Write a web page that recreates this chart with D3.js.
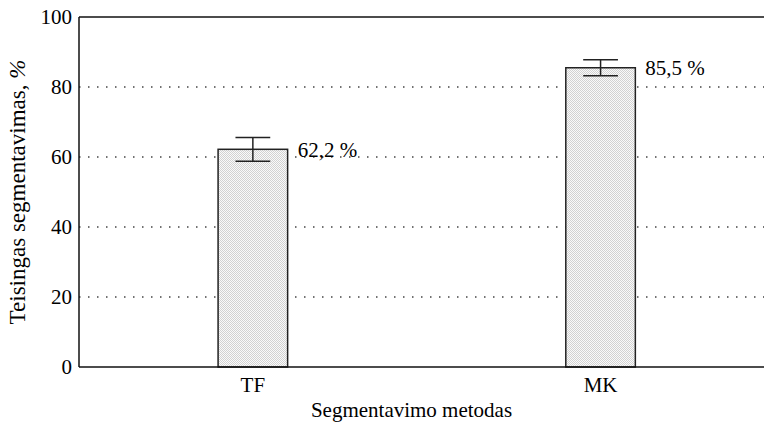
<!DOCTYPE html>
<html>
<head>
<meta charset="utf-8">
<script src="https://cdn.jsdelivr.net/npm/d3@7"></script>
<style>
  body { margin: 0; background: #fff; }
  svg text { font-family: "Liberation Serif", "DejaVu Serif", serif; fill: #000; }
</style>
</head>
<body>
<svg id="chart" width="764" height="422"></svg>
<script>
// data
const categories = ['TF', 'MK'];
const values = [62.2, 85.5];
const errors = [3.4, 2.3];
const valueLabels = ['62,2 %', '85,5 %'];
const yTicks = [0, 20, 40, 60, 80, 100];

const width = 764;
const height = 422;
const margin = {top: 17, right: 0, bottom: 55, left: 79};

const svg = d3.select('#chart');

// light checker fill like the original print
const defs = svg.append('defs');
const pat = defs.append('pattern')
  .attr('id', 'dots')
  .attr('width', 2)
  .attr('height', 2)
  .attr('patternUnits', 'userSpaceOnUse');
pat.append('rect').attr('width', 2).attr('height', 2).attr('fill', '#fafafa');
pat.append('rect').attr('width', 1).attr('height', 1).attr('fill', '#d2d2d2');
pat.append('rect').attr('x', 1).attr('y', 1).attr('width', 1).attr('height', 1).attr('fill', '#d2d2d2');

// categories sit at 1, 2 on a linear axis (figure is cropped on the right)
const x = d3.scaleLinear()
  .domain([0.5, 2.47])
  .range([margin.left, width - margin.right]);
const y = d3.scaleLinear()
  .domain([0, 100])
  .range([height - margin.bottom, margin.top]);

const barW = x(1.1) - x(0.9);

// dotted grid
svg.append('g')
  .selectAll('line')
  .data(yTicks.filter((d) => d > 0 && d < 100))
  .join('line')
  .attr('x1', margin.left)
  .attr('x2', width)
  .attr('y1', (d) => y(d))
  .attr('y2', (d) => y(d))
  .attr('stroke', '#444')
  .attr('stroke-width', 1.3)
  .attr('stroke-dasharray', '1.5,7.5');

// bars
svg.append('g')
  .selectAll('rect')
  .data(categories)
  .join('rect')
  .attr('x', (d, i) => x(i + 1) - barW / 2)
  .attr('y', (d, i) => y(values[i]))
  .attr('width', barW)
  .attr('height', (d, i) => y(0) - y(values[i]))
  .attr('fill', 'url(#dots)')
  .attr('stroke', '#222')
  .attr('stroke-width', 1.5);

// error bars
const errG = svg.append('g')
  .attr('stroke', '#222')
  .attr('stroke-width', 1.5);
categories.forEach((c, i) => {
  const cx = x(i + 1);
  const hi = y(values[i] + errors[i]);
  const lo = y(values[i] - errors[i]);
  const cap = barW / 4;
  errG.append('line').attr('x1', cx).attr('x2', cx).attr('y1', hi).attr('y2', lo);
  errG.append('line').attr('x1', cx - cap).attr('x2', cx + cap).attr('y1', hi).attr('y2', hi);
  errG.append('line').attr('x1', cx - cap).attr('x2', cx + cap).attr('y1', lo).attr('y2', lo);
});

// value labels
svg.append('g')
  .selectAll('text')
  .data(valueLabels)
  .join('text')
  .attr('x', (d, i) => x(i + 1) + barW / 2 + 10)
  .attr('y', (d, i) => y(values[i]))
  .attr('dy', '0.35em')
  .attr('font-size', 21)
  .text((d) => d);

// frame: left axis, bottom axis, top border
const frame = svg.append('g').attr('stroke', '#111').attr('stroke-width', 1.5);
frame.append('line').attr('x1', x(0.5)).attr('x2', x(0.5)).attr('y1', y(100)).attr('y2', y(0));
frame.append('line').attr('x1', x(0.5)).attr('x2', width).attr('y1', y(0)).attr('y2', y(0));
frame.append('line').attr('x1', x(0.5)).attr('x2', width).attr('y1', y(100)).attr('y2', y(100));

// y tick labels
svg.append('g')
  .selectAll('text')
  .data(yTicks)
  .join('text')
  .attr('x', margin.left - 7)
  .attr('y', (d) => y(d))
  .attr('dy', '0.35em')
  .attr('text-anchor', 'end')
  .attr('font-size', 21)
  .text((d) => d);

// x tick labels
svg.append('g')
  .selectAll('text')
  .data(categories)
  .join('text')
  .attr('x', (d, i) => x(i + 1))
  .attr('y', 392)
  .attr('text-anchor', 'middle')
  .attr('font-size', 21)
  .text((d) => d);

// axis titles
svg.append('text')
  .attr('x', (margin.left + width) / 2 - 10)
  .attr('y', 417)
  .attr('text-anchor', 'middle')
  .attr('font-size', 21)
  .text('Segmentavimo metodas');

const yTitle = svg.append('text')
  .attr('transform', `translate(25,${(y(0) + y(100)) / 2}) rotate(-90)`)
  .attr('text-anchor', 'middle')
  .attr('font-size', 23);
yTitle.append('tspan').text('Teisingas segmentavimas, ');
yTitle.append('tspan').attr('font-style', 'italic').text('%');
</script>
</body>
</html>
